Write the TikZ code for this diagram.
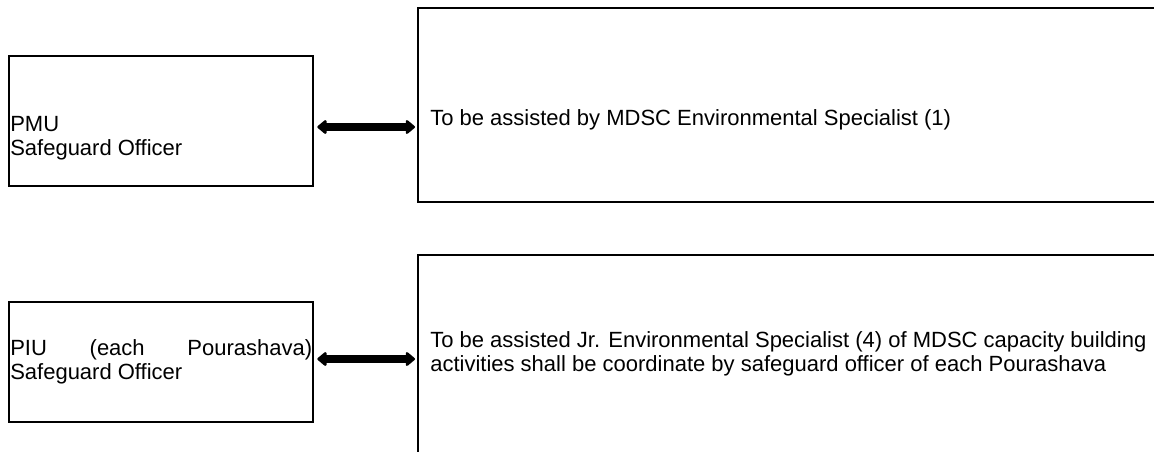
\documentclass[tikz,border=0pt]{standalone}
\usepackage{fontspec}
\setmainfont{Liberation Sans}
\usetikzlibrary{fit,arrows.meta}
\tikzset{
  x=0.75pt, y=-0.75pt,
  box/.style={draw=black, line width=1.5pt, inner sep=0pt},
  txt/.style={inner sep=0pt, anchor=base west, font=\fontsize{16.5pt}{16.5pt}\selectfont},
  biarrow/.style={line width=5.5pt, {Triangle[length=7.5pt,width=12pt,round]}-{Triangle[length=7.5pt,width=12pt,round]}, shorten <=2.5pt, shorten >=1.5pt}
}
\begin{document}
\begin{tikzpicture}
\clip (0,0) rectangle (1154,451);
\fill[white] (0,0) rectangle (1154,451);
% boxes
\node[box, fit={(9,56) (313,186)}] (pmu) {};
\node[box, fit={(418,8) (1175,202)}] (rb1) {};
\node[box, fit={(9,302) (313,422)}] (piu) {};
\node[box, fit={(418,255) (1175,480)}] (rb2) {};
% texts
\node[txt] (pmu1) at (10,131) {PMU};
\node[txt] (pmu2) at (10,155) {Safeguard Officer};
\node[txt] (rb1t) at (430,125) {To be assisted by MDSC Environmental Specialist (1)};
\node[txt] (piu1) at (10,355) {\makebox[226.5pt][s]{PIU (each Pourashava)}};
\node[txt] (piu2) at (10,379) {Safeguard Officer};
\node[txt] (rb2a) at (430,347) {To be assisted Jr. Environmental Specialist (4) of MDSC capacity building};
\node[txt] (rb2b) at (430,371) {activities shall be coordinate by safeguard officer of each Pourashava};
% connectors
\coordinate (a1) at (0,127);
\coordinate (a2) at (0,359);
\draw[biarrow] (pmu.east |- a1) -- (rb1.west |- a1);
\draw[biarrow] (piu.east |- a2) -- (rb2.west |- a2);
\end{tikzpicture}
\end{document}
